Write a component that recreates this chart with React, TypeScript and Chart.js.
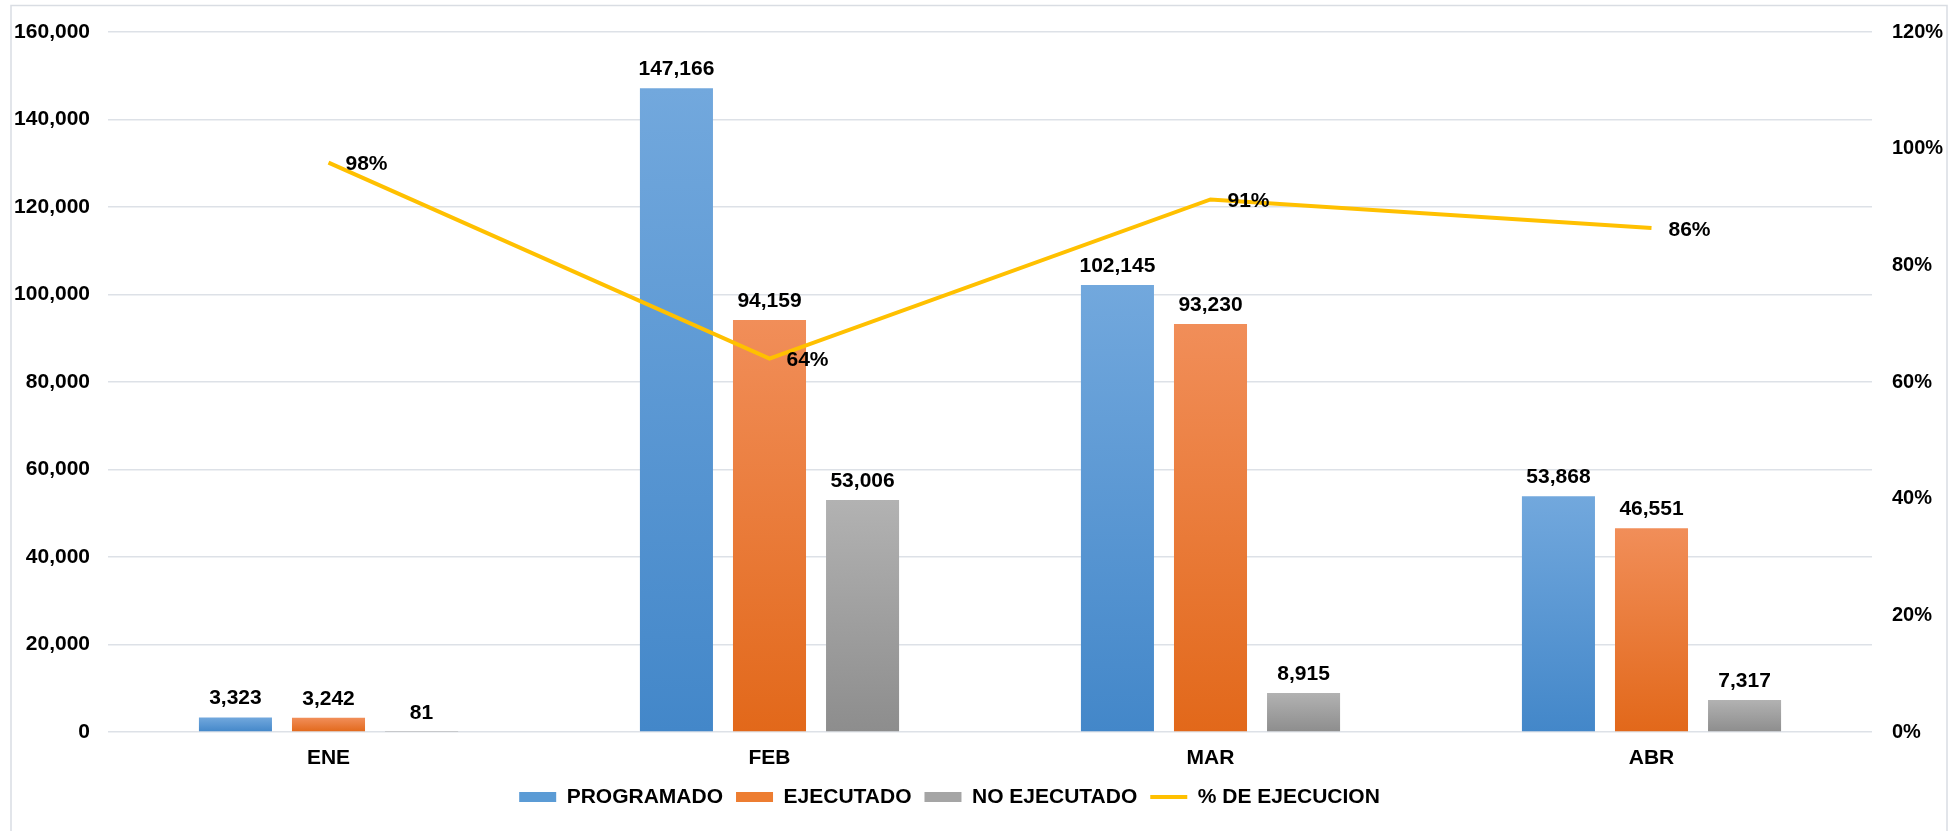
import React, { useEffect, useRef } from 'react';
import { Chart, registerables } from 'chart.js';

Chart.register(...registerables);

const categories = ['ENE', 'FEB', 'MAR', 'ABR'];
const programado = [3323, 147166, 102145, 53868];
const ejecutado = [3242, 94159, 93230, 46551];
const noEjecutado = [81, 53006, 8915, 7317];
const porcentaje = [0.976, 0.64, 0.913, 0.864];
const porcentajeLabels = ['98%', '64%', '91%', '86%'];
const seriesNames = ['PROGRAMADO', 'EJECUTADO', 'NO EJECUTADO', '% DE EJECUCION'];
const leftMax = 160000;
const leftStep = 20000;
const rightMax = 1.2;
const rightStep = 0.2;

const FONT = '"Liberation Sans", Arial, sans-serif';
const solidColors = ['#5B9BD5', '#ED7D31', '#A5A5A5', '#FFC000'];
const gradStops = [
  ['#72A8DD', '#4387C9'],
  ['#F18E59', '#E2681A'],
  ['#B2B2B2', '#8D8D8D'],
];

function barGradient(i: number) {
  return (c: any) => {
    const chart = c.chart;
    if (c.type !== 'data') return solidColors[i];
    const y = chart.scales && chart.scales.y;
    if (!y) return solidColors[i];
    const top = y.getPixelForValue(c.raw);
    const bottom = y.getPixelForValue(0);
    if (!isFinite(top) || !isFinite(bottom) || bottom - top < 1) return gradStops[i][0];
    const g = chart.ctx.createLinearGradient(0, top, 0, bottom);
    g.addColorStop(0, gradStops[i][0]);
    g.addColorStop(1, gradStops[i][1]);
    return g;
  };
}

const borderPlugin = {
  id: 'outerBorder',
  afterLayout(chart: any) {
    if (chart.legend) {
      chart.legend.right = chart.legend.right - 50;
    }
  },
  beforeDraw(chart: any) {
    const ctx = chart.ctx;
    ctx.save();
    ctx.strokeStyle = '#D9DDE3';
    ctx.lineWidth = 1.5;
    ctx.strokeRect(11, 5.5, 1936, 900);
    ctx.restore();
  },
};

const labelsPlugin = {
  id: 'valueLabels',
  afterDatasetsDraw(chart: any) {
    const ctx = chart.ctx;
    ctx.save();
    ctx.fillStyle = '#000';
    ctx.font = 'bold 21px ' + FONT;
    chart.data.datasets.forEach((ds: any, di: number) => {
      const meta = chart.getDatasetMeta(di);
      meta.data.forEach((el: any, i: number) => {
        if (ds.type === 'line') {
          ctx.textAlign = 'left';
          ctx.textBaseline = 'middle';
          ctx.fillText(porcentajeLabels[i], el.x + 17, el.y + 2);
        } else {
          ctx.textAlign = 'center';
          ctx.textBaseline = 'alphabetic';
          ctx.fillText(Number(ds.data[i]).toLocaleString('en-US'), el.x, el.y - 13);
        }
      });
    });
    ctx.restore();
  },
};

export default function App() {
  const ref = useRef<HTMLCanvasElement | null>(null);

  useEffect(() => {
    if (!ref.current) return;
    Chart.defaults.font.family = FONT;
    const barSeries = [programado, ejecutado, noEjecutado];
    const chart = new Chart(ref.current, {
      type: 'bar',
      data: {
        labels: categories,
        datasets: [
          ...barSeries.map((d, i) => ({
            type: 'bar' as const,
            label: seriesNames[i],
            data: d,
            yAxisID: 'y',
            backgroundColor: barGradient(i),
            borderWidth: 0,
            categoryPercentage: 0.633,
            barPercentage: 0.785,
            order: 1,
          })),
          {
            type: 'line' as const,
            label: seriesNames[3],
            data: porcentaje,
            yAxisID: 'y1',
            borderColor: '#FFC000',
            backgroundColor: '#FFC000',
            borderWidth: 4,
            pointRadius: 0,
            pointHoverRadius: 0,
            tension: 0,
            fill: false,
            order: 0,
          },
        ],
      },
      options: {
        responsive: false,
        animation: false,
        layout: { padding: { top: 28, bottom: 13.5, left: 0, right: 0 } },
        plugins: {
          tooltip: { enabled: false },
          legend: {
            position: 'bottom',
            labels: {
              usePointStyle: true,
              pointStyleWidth: 37,
              boxHeight: 10,
              padding: 13,
              color: '#000',
              font: { size: 21, weight: 'bold', family: FONT },
              generateLabels: (ch: any) =>
                ch.data.datasets.map((ds: any, i: number) => ({
                  text: ds.label,
                  fillStyle: solidColors[i],
                  strokeStyle: solidColors[i],
                  lineWidth: i === 3 ? 4 : 0,
                  pointStyle: i === 3 ? 'line' : 'rect',
                  hidden: false,
                  datasetIndex: i,
                  fontColor: '#000',
                })),
            },
          },
        },
        scales: {
          x: {
            grid: { display: false, drawTicks: false },
            border: { display: false },
            ticks: { color: '#000', padding: 14, font: { size: 21, weight: 'bold' } },
            afterFit: (s: any) => {
              s.height = 41.5;
            },
          },
          y: {
            position: 'left',
            min: 0,
            max: leftMax,
            ticks: {
              stepSize: leftStep,
              color: '#000',
              padding: 18,
              font: { size: 21, weight: 'bold' },
              callback: (v: any) => Number(v).toLocaleString('en-US'),
            },
            grid: { color: '#DDE1E7', lineWidth: 1.5, drawTicks: false },
            border: { display: false },
            afterFit: (s: any) => {
              s.width = 108;
            },
          },
          y1: {
            position: 'right',
            min: 0,
            max: rightMax,
            ticks: {
              stepSize: rightStep,
              color: '#000',
              padding: 20,
              font: { size: 20, weight: 'bold' },
              callback: (v: any) => Math.round(Number(v) * 100) + '%',
            },
            grid: { display: false, drawTicks: false },
            border: { display: false },
            afterFit: (s: any) => {
              s.width = 77;
            },
          },
        },
      },
      plugins: [borderPlugin, labelsPlugin],
    } as any);
    return () => chart.destroy();
  }, []);

  return (
    <div style={{ position: 'absolute', left: 0, top: 0, width: 1949, height: 831, background: '#fff' }}>
      <canvas ref={ref} width={1949} height={831} style={{ display: 'block' }} />
    </div>
  );
}
